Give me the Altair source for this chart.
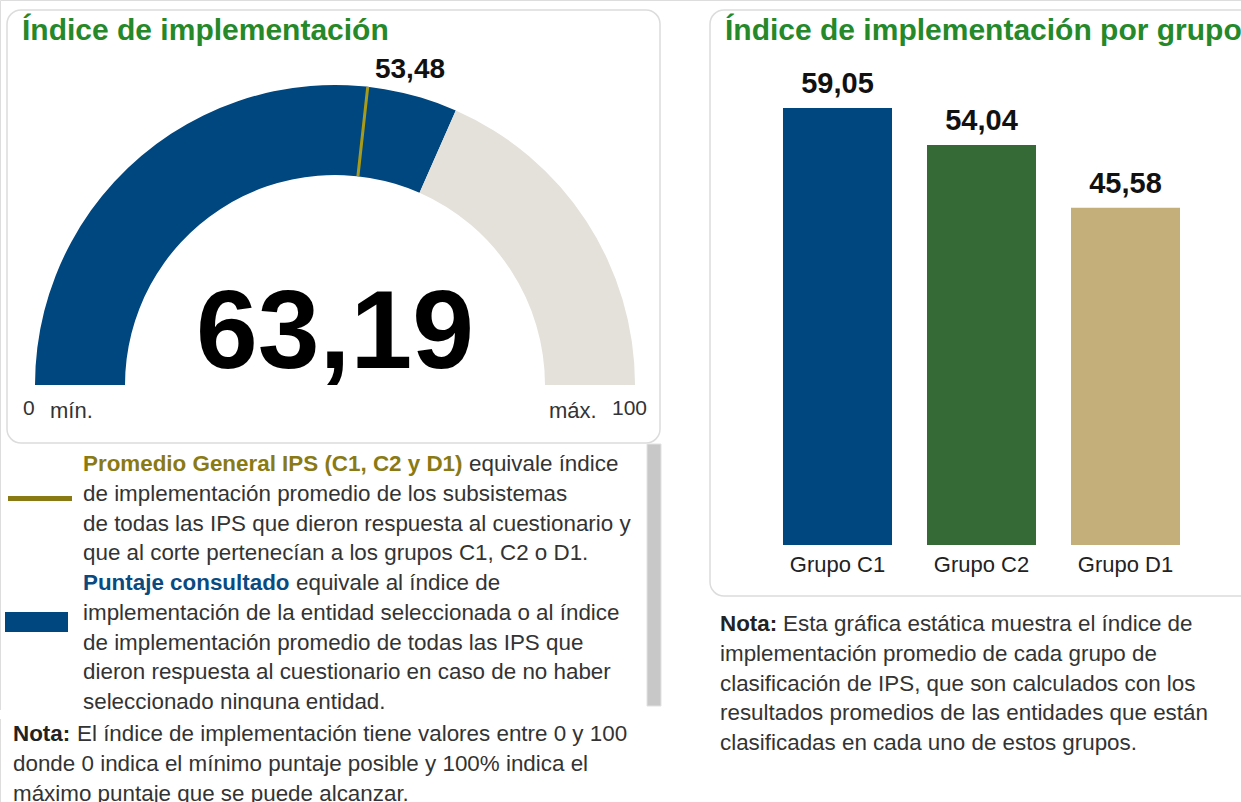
import math
import altair as alt
import pandas as pd

FONT = "Liberation Sans"
AZUL = "#00467f"
GRIS_GAUGE = "#e4e0da"
VERDE_TITULO = "#25892a"
OLIVA = "#8a7a14"
MARCA = "#a89b1a"
TEXTO = "#333333"
CUERPO = 22.4  # body text size

# Gauge values
puntaje_consultado = 63.19
promedio_general = 53.48
gauge_min, gauge_max = 0, 100

# Bar chart values
grupos = ["Grupo C1", "Grupo C2", "Grupo D1"]
valores = [59.05, 54.04, 45.58]
colores_barras = ["#00467f", "#356935", "#c4ae7a"]

# Texts
titulo_izq = "Índice de implementación"
titulo_der = "Índice de implementación por grupo"
leyenda_promedio_neg = "Promedio General IPS (C1, C2 y D1)"
leyenda_promedio_l1 = "equivale índice"
leyenda_promedio_resto = [
    "de implementación promedio de los subsistemas",
    "de todas las IPS que dieron respuesta al cuestionario y",
    "que al corte pertenecían a los grupos C1, C2 o D1.",
]
leyenda_puntaje_neg = "Puntaje consultado"
leyenda_puntaje_l1 = "equivale al índice de"
leyenda_puntaje_resto = [
    "implementación de la entidad seleccionada o al índice",
    "de implementación promedio de todas las IPS que",
    "dieron respuesta al cuestionario en caso de no haber",
    "seleccionado ninguna entidad.",
]
nota_izq_l1 = "El índice de implementación tiene valores entre 0 y 100"
nota_izq_resto = [
    "donde 0 indica el mínimo puntaje posible y 100% indica el",
    "máximo puntaje que se puede alcanzar.",
]
nota_der_l1 = "Esta gráfica estática muestra el índice de"
nota_der_resto = [
    "implementación promedio de cada grupo de",
    "clasificación de IPS, que son calculados con los",
    "resultados promedios de las entidades que están",
    "clasificadas en cada uno de estos grupos.",
]

W, H = 1241, 802
one = pd.DataFrame({"k": [0]})


def caja(x0, x1, y0, y1):
    return alt.Chart(one).mark_rect(
        fill="white", stroke="#dcdcdc", strokeWidth=1.5, cornerRadius=14
    ).encode(x=alt.value(x0), x2=alt.value(x1), y=alt.value(y0), y2=alt.value(y1))


def texto(t, x, y, size=CUERPO, bold=False, color=TEXTO, align="left", line_height=29.8):
    return alt.Chart(one).mark_text(
        text=t, font=FONT, fontSize=size, fontWeight="bold" if bold else "normal",
        color=color, align=align, baseline="alphabetic", lineHeight=line_height,
    ).encode(x=alt.value(x), y=alt.value(y))


# --- gauge ---
CX, CY, R_OUT, R_IN = 335, 385, 300, 210
theta_scale = alt.Scale(domain=[gauge_min, gauge_max], range=[-math.pi / 2, math.pi / 2])

segmentos = pd.DataFrame({
    "inicio": [gauge_min, puntaje_consultado],
    "fin": [puntaje_consultado, gauge_max],
    "color": [AZUL, GRIS_GAUGE],
})
arcos = alt.Chart(segmentos).mark_arc(radius=R_OUT, radius2=R_IN).encode(
    theta=alt.Theta("inicio:Q", scale=theta_scale, stack=False),
    theta2="fin:Q",
    color=alt.Color("color:N", scale=None),
    x=alt.value(CX), y=alt.value(CY),
)

marca_df = pd.DataFrame({"v": [promedio_general]})
marca = alt.Chart(marca_df).mark_arc(
    radius=R_OUT, radius2=R_IN, stroke=MARCA, strokeWidth=3, fill=MARCA
).encode(
    theta=alt.Theta("v:Q", scale=theta_scale, stack=False),
    theta2="v:Q",
    x=alt.value(CX), y=alt.value(CY),
)
marca_txt = alt.Chart(marca_df).mark_text(
    font=FONT, fontSize=28, fontWeight="bold", color="#111", baseline="alphabetic"
).encode(text=alt.Text("v:Q", format=".2f"), x=alt.value(410), y=alt.value(78))

valor_df = pd.DataFrame({"v": [puntaje_consultado]})
valor_txt = alt.Chart(valor_df).mark_text(
    font=FONT, fontSize=111, fontWeight="bold", color="#000", baseline="alphabetic"
).encode(text=alt.Text("v:Q", format=".2f"), x=alt.value(CX), y=alt.value(368))

# --- bars ---
barras_df = pd.DataFrame({"grupo": grupos, "valor": valores})
x_scale = alt.Scale(domain=grupos, range=[765.5, 1197.5], paddingInner=0.243, paddingOuter=0.1215)
y_scale = alt.Scale(domain=[0, 60], range=[545, 101])
base_barras = alt.Chart(barras_df).encode(
    x=alt.X("grupo:N", scale=x_scale, axis=None, sort=grupos),
)
barras = base_barras.mark_bar().encode(
    y=alt.Y("valor:Q", scale=y_scale, axis=None),
    color=alt.Color("grupo:N", scale=alt.Scale(domain=grupos, range=colores_barras), legend=None),
)
barras_val = base_barras.mark_text(
    font=FONT, fontSize=29, fontWeight="bold", color="#111", baseline="alphabetic", dy=-15
).encode(y=alt.Y("valor:Q", scale=y_scale, axis=None), text=alt.Text("valor:Q", format=".2f"))
barras_cat = base_barras.mark_text(
    font=FONT, fontSize=22, color="#222", baseline="alphabetic"
).encode(y=alt.value(572), text="grupo:N")

capas = [
    caja(7, 660, 10, 443),
    caja(710, 1260, 10, 596),
    texto(titulo_izq, 22, 40, size=30, bold=True, color=VERDE_TITULO),
    texto(titulo_der, 725, 40, size=30, bold=True, color=VERDE_TITULO),
    arcos, marca, marca_txt, valor_txt,
    texto("0", 23, 415, size=21),
    texto("mín.", 50, 418, size=22),
    texto("máx.", 549, 418, size=22),
    texto("100", 612, 415, size=21),
    barras, barras_val, barras_cat,
    # legend swatches
    alt.Chart(one).mark_rect(color=OLIVA).encode(
        x=alt.value(8), x2=alt.value(72), y=alt.value(496), y2=alt.value(501)),
    alt.Chart(one).mark_rect(color=AZUL).encode(
        x=alt.value(5), x2=alt.value(68), y=alt.value(612), y2=alt.value(632)),
    texto(leyenda_promedio_neg, 83, 471, bold=True, color=OLIVA),
    texto(leyenda_promedio_l1, 469, 471),
    texto(leyenda_promedio_resto, 83, 500.8),
    texto(leyenda_puntaje_neg, 83, 590, bold=True, color="#0a4a80"),
    texto(leyenda_puntaje_l1, 296, 590),
    texto(leyenda_puntaje_resto, 83, 619.8),
    # scroll container clip and scrollbar
    alt.Chart(one).mark_rect(color="white").encode(
        x=alt.value(0), x2=alt.value(646), y=alt.value(710), y2=alt.value(719)),
    alt.Chart(one).mark_rect(color="#c8c8c8", stroke="#e2e2e2").encode(
        x=alt.value(647), x2=alt.value(661), y=alt.value(444), y2=alt.value(706)),
    texto("Nota:", 13, 741, bold=True, color="#222"),
    texto(nota_izq_l1, 77, 741),
    texto(nota_izq_resto, 13, 770.8),
    texto("Nota:", 720, 631, bold=True, color="#222"),
    texto(nota_der_l1, 783, 631),
    texto(nota_der_resto, 720, 660.8),
]

chart = alt.layer(*capas).properties(
    width=W, height=H, padding=0, autosize=alt.AutoSizeParams(type="none"),
    background="white",
).configure_view(stroke=None).configure(
    locale={"number": {"decimal": ",", "thousands": ".", "grouping": [3], "currency": ["$", ""]}}
)

chart.save("out.html", embed_options={"renderer": "svg", "actions": False})
